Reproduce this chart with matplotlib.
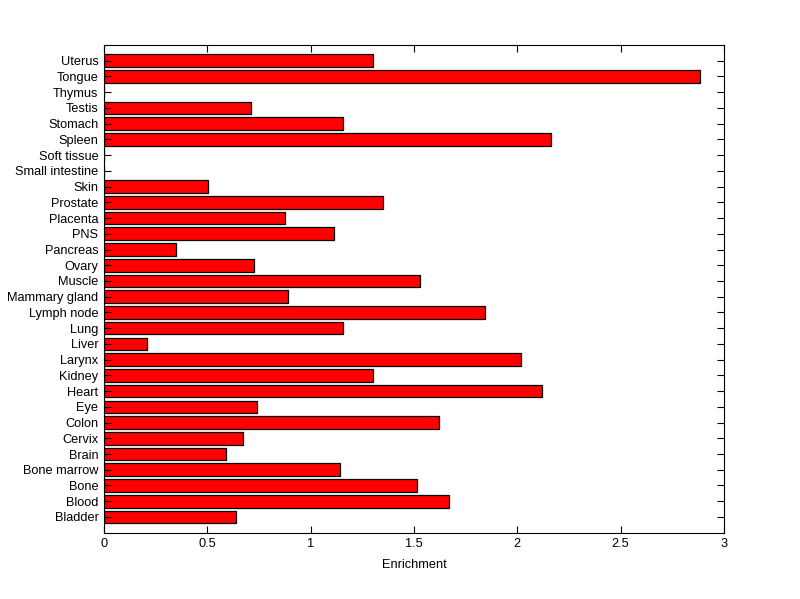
import numpy as np
import matplotlib
matplotlib.use('Agg')
import matplotlib.pyplot as plt

plt.rcParams['font.family'] = ['Liberation Sans', 'DejaVu Sans']

# tissues, bottom to top
tissues = ['Bladder', 'Blood', 'Bone', 'Bone marrow', 'Brain', 'Cervix', 'Colon',
           'Eye', 'Heart', 'Kidney', 'Larynx', 'Liver', 'Lung', 'Lymph node',
           'Mammary gland', 'Muscle', 'Ovary', 'Pancreas', 'PNS', 'Placenta',
           'Prostate', 'Skin', 'Small intestine', 'Soft tissue', 'Spleen',
           'Stomach', 'Testis', 'Thymus', 'Tongue', 'Uterus']
enrichment = [0.639, 1.671, 1.515, 1.142, 0.592, 0.674, 1.623,
              0.740, 2.121, 1.303, 2.019, 0.208, 1.157, 1.845,
              0.890, 1.529, 0.728, 0.348, 1.113, 0.878,
              1.350, 0.503, 0.0, 0.0, 2.165,
              1.157, 0.711, 0.0, 2.884, 1.303]

fig = plt.figure(figsize=(8, 5.99), dpi=100)
ax = fig.add_axes([0.13, 0.1107, 0.775, 0.8142])

y = np.arange(1, len(tissues) + 1)
ax.barh(y, enrichment, height=0.8, color='#ff0000', edgecolor='black', linewidth=0.9)

ax.set_xlim(0, 3)
ax.set_ylim(0, len(tissues) + 1)
ax.set_xticks([0, 0.5, 1, 1.5, 2, 2.5, 3])
ax.set_xticklabels(['0', '0.5', '1', '1.5', '2', '2.5', '3'])
ax.set_yticks(y)
ax.set_yticklabels(tissues)
ax.tick_params(direction='in', length=5, width=0.8, labelsize=9.2,
               top=True, right=True, pad=4)
for s in ax.spines.values():
    s.set_linewidth(0.8)
ax.set_xlabel('Enrichment', fontsize=9.2, labelpad=6)

fig.savefig('out.png', dpi=100)
